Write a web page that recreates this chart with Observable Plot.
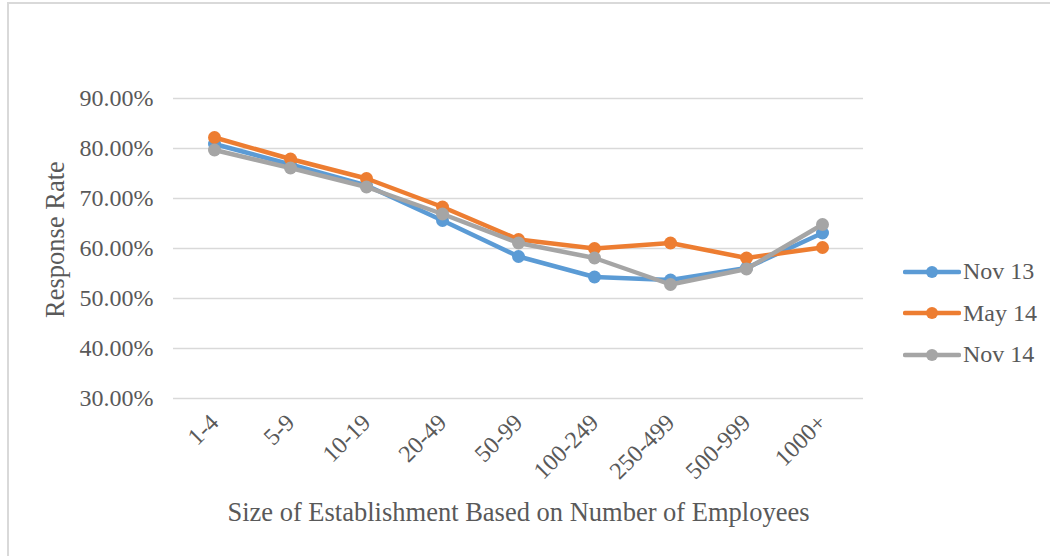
<!DOCTYPE html>
<html>
<head>
<meta charset="utf-8">
<script src="https://cdn.jsdelivr.net/npm/d3@7"></script>
<script src="https://cdn.jsdelivr.net/npm/@observablehq/plot@0.6"></script>
<style>
  html, body { margin: 0; padding: 0; background: #fff; }
  #wrap { position: relative; width: 1050px; height: 556px; overflow: hidden; }
  #frame { position: absolute; left: 7px; top: 2px; right: -10px; bottom: -10px;
           border-left: 2px solid #D9D9D9; border-top: 2px solid #D9D9D9; pointer-events: none; }
  #chart { position: absolute; left: 0; top: 0; }
  #legend { position: absolute; left: 903px; top: 251px; font-family: "Liberation Serif", serif;
            font-size: 24px; color: #595959; }
  .row { display: flex; align-items: center; height: 41.5px; }
  .row svg { display: block; margin-right: 2px; }
</style>
</head>
<body>
<div id="wrap">
  <div id="chart"></div>
  <div id="frame"></div>
  <div id="legend"></div>
</div>
<script>
// Establishment size classes
const categories = ["1-4", "5-9", "10-19", "20-49", "50-99", "100-249", "250-499", "500-999", "1000+"];

// Response rates (percent) per survey round
const nov13 = [80.9, 76.8, 72.6, 65.6, 58.4, 54.3, 53.7, 56.1, 63.1];
const may14 = [82.2, 77.9, 74.0, 68.3, 61.8, 60.0, 61.1, 58.1, 60.2];
const nov14 = [79.7, 76.1, 72.3, 66.9, 61.1, 58.1, 52.8, 55.9, 64.8];

const seriesNames = ["Nov 13", "May 14", "Nov 14"];
const seriesColors = ["#5B9BD5", "#ED7D31", "#A5A5A5"];
const yTicks = [30, 40, 50, 60, 70, 80, 90];

const xTitle = "Size of Establishment Based on Number of Employees";
const yTitle = "Response Rate";

const seriesValues = [nov13, may14, nov14];
const rows = seriesNames.flatMap((name, i) =>
  categories.map((cat, j) => ({ series: name, cat, value: seriesValues[i][j] / 100 }))
);

const font = "Liberation Serif";
const ink = "#595959";

// Each series draws its line then its markers, in series order
const seriesMarks = seriesNames.flatMap(name => {
  const data = rows.filter(d => d.series === name);
  return [
    Plot.lineY(data, { x: "cat", y: "value", stroke: "series", strokeWidth: 4.5, strokeLinejoin: "round" }),
    Plot.dot(data, { x: "cat", y: "value", fill: "series", r: 6.5 })
  ];
});

const chart = Plot.plot({
  width: 1050,
  height: 556,
  marginLeft: 173,
  marginRight: 187,
  marginTop: 98,
  marginBottom: 158,
  style: { fontFamily: font, fontSize: "24px", color: ink, background: "transparent", overflow: "visible" },
  x: { type: "point", domain: categories, padding: 0.5 },
  y: { domain: [0.3, 0.9] },
  color: { domain: seriesNames, range: seriesColors },
  marks: [
    Plot.gridY(yTicks.map(t => t / 100), { stroke: "#D9D9D9", strokeOpacity: 1, strokeWidth: 1.5 }),
    Plot.axisY(yTicks.map(t => t / 100), {
      tickFormat: d3.format(".2%"), tickSize: 0, tickPadding: 20, fill: ink,
      fontSize: 24, fontFamily: font, label: null
    }),
    Plot.axisX({
      tickSize: 0, tickRotate: -45, tickPadding: 20, dx: 0, fill: ink,
      fontSize: 24, fontFamily: font, label: null
    }),
    // Axis titles
    Plot.text([yTitle], {
      text: d => d, frameAnchor: "left", rotate: -90, dx: -118, dy: -9,
      fontSize: 26.5, fontFamily: font, fill: ink, textAnchor: "middle", lineAnchor: "middle"
    }),
    Plot.text([xTitle], {
      text: d => d, frameAnchor: "bottom", dy: 114,
      fontSize: 26.5, fontFamily: font, fill: ink, lineAnchor: "middle"
    }),
    ...seriesMarks
  ]
});
document.getElementById("chart").appendChild(chart);

// Legend: line with a marker, then the series name
const legend = d3.select("#legend");
seriesNames.forEach((name, i) => {
  const row = legend.append("div").attr("class", "row");
  const svg = row.append("svg").attr("width", 58).attr("height", 20);
  svg.append("line").attr("x1", 2).attr("x2", 56).attr("y1", 10).attr("y2", 10)
    .attr("stroke", seriesColors[i]).attr("stroke-width", 4.5).attr("stroke-linecap", "round");
  svg.append("circle").attr("cx", 29).attr("cy", 10).attr("r", 6).attr("fill", seriesColors[i]);
  row.append("span").text(name);
});
</script>
</body>
</html>
